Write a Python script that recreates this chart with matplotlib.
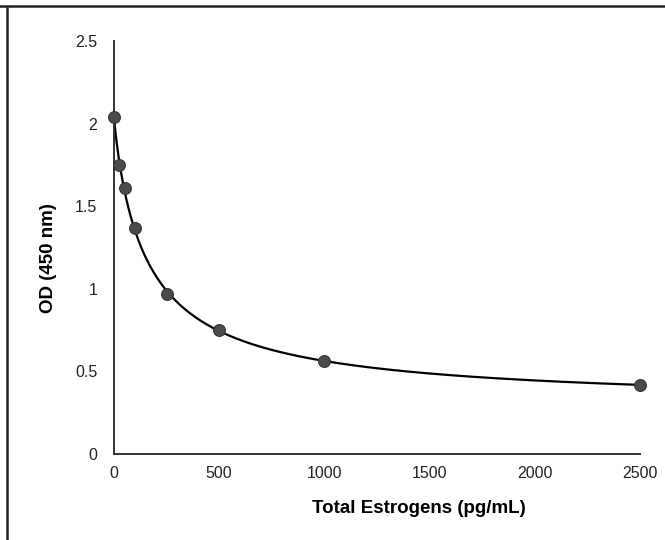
import numpy as np
import matplotlib
matplotlib.use("Agg")
import matplotlib.pyplot as plt
from matplotlib.lines import Line2D

# standard curve readings
conc = [0, 25, 50, 100, 250, 500, 1000, 2500]
od = [2.04, 1.75, 1.61, 1.37, 0.97, 0.75, 0.565, 0.415]
x_ticks = [0, 500, 1000, 1500, 2000, 2500]
y_ticks = [0, 0.5, 1, 1.5, 2, 2.5]
y_tick_labels = ["0", "0.5", "1", "1.5", "2", "2.5"]


def fit_4pl(x, y):
    # grid over slope and midpoint, top/bottom solved linearly
    x = np.asarray(x, float)
    y = np.asarray(y, float)
    best = None
    for b in np.linspace(0.3, 2.0, 86):
        for c in np.logspace(0.5, 4, 200):
            g = 1.0 / (1.0 + (x / c) ** b)
            A = np.column_stack([g, 1 - g])
            coef, *_ = np.linalg.lstsq(A, y, rcond=None)
            err = np.sum((A @ coef - y) ** 2)
            if best is None or err < best[0]:
                best = (err, coef[0], coef[1], b, c)
    return best[1:]


a, d, b, c = fit_4pl(conc, od)
xs = np.linspace(0, max(conc), 800)
ys = d + (a - d) / (1 + (xs / c) ** b)

plt.rcParams['font.family'] = ['Liberation Sans', 'DejaVu Sans']

fig = plt.figure(figsize=(6.65, 5.4), dpi=100)
ax = fig.add_axes([0.1714, 0.1593, 0.791, 0.7648])

ax.plot(xs, ys, color="black", lw=1.6, zorder=2)
ax.plot(conc, od, "o", color="#4a4a4a", markersize=8.5,
        markeredgecolor="#333333", markeredgewidth=0.8, zorder=3,
        clip_on=False)

ax.set_xlim(0, 2500)
ax.set_ylim(0, 2.5)
ax.set_xticks(x_ticks)
ax.set_yticks(y_ticks)
ax.set_yticklabels(y_tick_labels)
ax.tick_params(length=0, labelsize=11.5, labelcolor="#222222")
ax.tick_params(axis="x", pad=9)
ax.tick_params(axis="y", pad=12)

for side in ["top", "right"]:
    ax.spines[side].set_visible(False)
for side in ["left", "bottom"]:
    ax.spines[side].set_color("#333333")
    ax.spines[side].set_linewidth(1.4)

fig.text(0.073, 0.522, "OD (450 nm)", rotation=90, ha="center", va="center",
         fontsize=13.5, fontweight="bold")
fig.text(0.63, 0.059, "Total Estrogens (pg/mL)", ha="center", va="center",
         fontsize=13.5, fontweight="bold")

# outer frame lines (top and left) from the original scan
fig.add_artist(Line2D([0, 1], [0.989, 0.989], transform=fig.transFigure,
                      color="#222222", lw=1.8))
fig.add_artist(Line2D([0.011, 0.011], [0, 0.985], transform=fig.transFigure,
                      color="#222222", lw=1.8))

fig.savefig("out.png", dpi=100)
